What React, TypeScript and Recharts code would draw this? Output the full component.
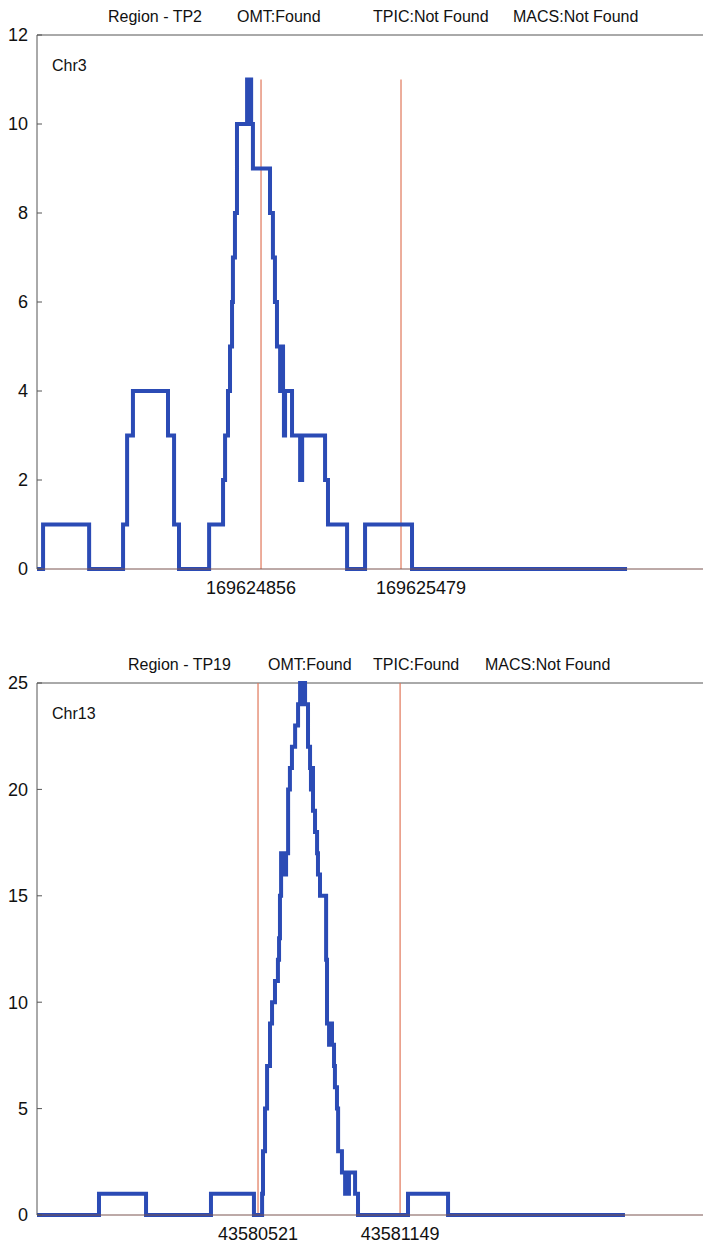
import React from 'react';
import { LineChart, Line, XAxis, YAxis, ReferenceLine } from 'recharts';

// panel 1 - Chr3, TP2
const tp2Pos = [
  169623859, 169623886, 169624091, 169624242, 169624260, 169624286, 169624442, 169624469,
  169624491, 169624625, 169624687, 169624696, 169624709, 169624718, 169624727, 169624731,
  169624740, 169624749, 169624794, 169624803, 169624807, 169624812, 169624820, 169624896,
  169624909, 169624918, 169624927, 169624941, 169624945, 169624954, 169624958, 169624963,
  169624994, 169625030, 169625039, 169625141, 169625154, 169625239, 169625319, 169625528,
  169626485,
];
const tp2Vals = [
  0, 1, 0, 1, 3, 4, 3, 1,
  0, 1, 2, 3, 4, 5, 6, 7,
  8, 10, 11, 10, 11, 10, 9, 8,
  7, 6, 5, 4, 5, 4, 3, 4,
  3, 2, 3, 2, 1, 0, 1, 0,
  0,
];
const tp2Ticks = [169624856, 169625479];
const tp2Domain = [169623859, 169626823];
const tp2Title = ['Region - TP2', 'OMT:Found', 'TPIC:Not Found', 'MACS:Not Found'];

// panel 2 - Chr13, TP19
const tp19Pos = [
  43579544, 43579818, 43580026, 43580313, 43580503, 43580539, 43580543, 43580552,
  43580561, 43580574, 43580583, 43580596, 43580609, 43580614, 43580618, 43580623,
  43580636, 43580645, 43580654, 43580662, 43580671, 43580685, 43580698, 43580707,
  43580716, 43580720, 43580729, 43580742, 43580751, 43580755, 43580760, 43580764,
  43580773, 43580782, 43580786, 43580795, 43580822, 43580826, 43580835, 43580839,
  43580848, 43580857, 43580861, 43580870, 43580875, 43580892, 43580906, 43580923,
  43580950, 43580963, 43581184, 43581361, 43582143,
];
const tp19Vals = [
  0, 1, 0, 1, 0, 1, 3, 5,
  7, 9, 10, 11, 12, 13, 15, 17,
  16, 17, 20, 21, 22, 23, 24, 25,
  24, 25, 24, 22, 21, 20, 21, 19,
  18, 17, 16, 15, 12, 9, 8, 9,
  8, 7, 6, 5, 3, 2, 1, 2,
  1, 0, 1, 0, 0,
];
const tp19Ticks = [43580521, 43581149];
const tp19Domain = [43579544, 43582488];
const tp19Title = ['Region - TP19', 'OMT:Found', 'TPIC:Found', 'MACS:Not Found'];

const FONT = '"Liberation Sans", Arial, sans-serif';
const BLUE = '#2b4bb5';
const RED = '#e0775a';
const AXIS = '#555';

const toRows = (pos: number[], vals: number[]) => pos.map((x, i) => ({ x, v: vals[i] }));

// x tick label, nudged sideways like in the original figure
const makeTick = (shift: number[]) => (props: any) => {
  const { x, y, payload, index } = props;
  return (
    <text
      x={x + (shift[index] || 0)}
      y={y}
      dy="0.71em"
      textAnchor="middle"
      fill="#111"
      fontSize={18}
      fontFamily={FONT}
    >
      {payload.value}
    </text>
  );
};

interface PanelProps {
  pos: number[];
  vals: number[];
  ticks: number[];
  domain: number[];
  yMax: number;
  yTicks: number[];
  markTop: number;
  chr: string;
  title: string[];
  titleX: number[];
  height: number;
  top: number;
  xHeight: number;
  labelShift: number[];
}

const Panel = ({
  pos, vals, ticks, domain, yMax, yTicks, markTop, chr, title, titleX, height, top, xHeight, labelShift,
}: PanelProps) => {
  const data = toRows(pos, vals);
  return (
    <div style={{ position: 'relative', width: 703, height }}>
      {title.map((t, i) => (
        <div
          key={t}
          style={{
            position: 'absolute', left: titleX[i], top: top - 27, fontFamily: FONT,
            fontSize: 16, color: '#111', whiteSpace: 'nowrap',
          }}
        >
          {t}
        </div>
      ))}
      <div style={{ position: 'absolute', left: 52, top: top + 22, fontFamily: FONT, fontSize: 16, color: '#111' }}>
        {chr}
      </div>
      <LineChart width={703} height={height} data={data} margin={{ top, right: 0, left: 0, bottom: 0 }}>
        <XAxis
          dataKey="x"
          type="number"
          domain={domain}
          ticks={ticks}
          allowDataOverflow
          tickLine={false}
          tickSize={0}
          tickMargin={12}
          stroke="#7a5550"
          height={xHeight}
          tick={makeTick(labelShift)}
        />
        <YAxis
          type="number"
          domain={[0, yMax]}
          ticks={yTicks}
          width={37}
          stroke={AXIS}
          tickSize={-5}
          tickMargin={14}
          tick={{ fill: '#111', fontSize: 18, fontFamily: FONT }}
        />
        <ReferenceLine y={yMax} stroke={AXIS} />
        {ticks.map((t) => (
          <ReferenceLine key={t} segment={[{ x: t, y: 0 }, { x: t, y: markTop }]} stroke={RED} strokeWidth={1.2} />
        ))}
        <Line
          type="stepAfter"
          dataKey="v"
          stroke={BLUE}
          strokeWidth={4}
          dot={false}
          isAnimationActive={false}
        />
      </LineChart>
    </div>
  );
};

export default function App() {
  return (
    <div style={{ position: 'absolute', left: 0, top: 0, width: 703, height: 1247, background: '#fff' }}>
      <Panel
        pos={tp2Pos}
        vals={tp2Vals}
        ticks={tp2Ticks}
        domain={tp2Domain}
        yMax={12}
        yTicks={[0, 2, 4, 6, 8, 10, 12]}
        markTop={11}
        chr="Chr3"
        title={tp2Title}
        titleX={[108, 237, 373, 513]}
        height={620}
        top={35}
        xHeight={51}
        labelShift={[-10, 20]}
      />
      <Panel
        pos={tp19Pos}
        vals={tp19Vals}
        ticks={tp19Ticks}
        domain={tp19Domain}
        yMax={25}
        yTicks={[0, 5, 10, 15, 20, 25]}
        markTop={25}
        chr="Chr13"
        title={tp19Title}
        titleX={[128, 268, 373, 485]}
        height={627}
        top={63}
        xHeight={32}
        labelShift={[0, 0]}
      />
    </div>
  );
}
